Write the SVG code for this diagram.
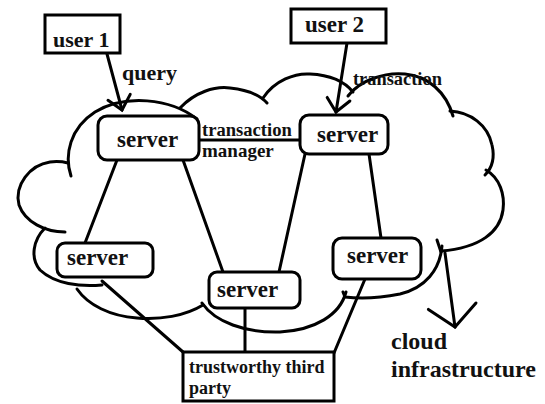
<svg xmlns="http://www.w3.org/2000/svg" width="545" height="404" viewBox="0 0 545 404">
<defs>
<style>
.ln{fill:none;stroke:#000;stroke-width:3;stroke-linecap:round;stroke-linejoin:round}
.bx{fill:#fff;stroke:#000;stroke-width:3}
.t{font-family:"Liberation Serif","Times New Roman",serif;font-weight:bold;fill:#111}
</style>
<marker id="vs" markerUnits="userSpaceOnUse" markerWidth="40" markerHeight="40" viewBox="-30 -20 40 40" refX="0" refY="0" orient="auto">
<path d="M-13,-12 L0,0 L-13,11" fill="none" stroke="#000" stroke-width="3" stroke-linecap="round"/>
</marker>
<marker id="vl" markerUnits="userSpaceOnUse" markerWidth="60" markerHeight="60" viewBox="-30 -30 60 60" refX="0" refY="0" orient="auto">
<path d="M-21,-24 L0,0 L-21,24" fill="none" stroke="#000" stroke-width="3" stroke-linecap="round"/>
</marker>
</defs>
<rect width="545" height="404" fill="#fff"/>
<g id="cloud" class="ln">
<path d="M71,176 C64,155 70,128 95,112 C125,94 170,98 197,119"/>
<path d="M180,108 C195,92 215,86 230,88 C248,90 260,95 267,103"/>
<path d="M263,98 C275,80 295,73 310,74 C330,75 345,82 353,92"/>
<path d="M348,96 C360,80 385,72 405,74 C428,76 446,92 453,116"/>
<path d="M450,111 C470,112 488,125 492,145 C495,158 492,168 485,175"/>
<path d="M486,170 C500,178 505,195 503,210 C500,232 480,248 441,251"/>
<path d="M437,240 L441,252"/>
<path d="M442,246 C440,270 425,288 400,294 C380,298 360,299 345,297 L343,292"/>
<path d="M346,292 C340,315 315,330 280,332 C245,333 215,322 202,303"/>
<path d="M203,305 C185,316 160,320 137,318 C110,316 88,305 77,289"/>
<path d="M102,285 C80,287 55,284 40,270 C30,258 33,240 45,228"/>
<path d="M65,232 C45,232 25,222 19,205 C14,185 30,165 50,162 C58,161 64,162 68,163"/>
</g>
<g id="connectors" class="ln">
<path d="M107,54 L122,110" marker-end="url(#vs)"/>
<path d="M347,43 L336,112" marker-end="url(#vs)"/>
<path d="M445,253 L455,327" marker-end="url(#vl)"/>
<path d="M199,140 L300,140"/>
<path d="M117,160 L85,243"/>
<path d="M183,160 L223,272"/>
<path d="M305,154 L279,272"/>
<path d="M369,154 L381,238"/>
<path d="M102,281 L183,352"/>
<path d="M245,308 L245,352"/>
<path d="M365,279 L334,353"/>
</g>
<g id="user1"><rect class="bx" x="45" y="15" width="75" height="38"/><text class="t" x="53" y="47" font-size="22">user 1</text></g>
<g id="user2"><rect class="bx" x="291" y="9" width="95" height="34"/><text class="t" x="305" y="32" font-size="23">user 2</text></g>
<g id="server1"><rect class="bx" x="98" y="116" width="101" height="44" rx="9"/><text class="t" x="117" y="147" font-size="23">server</text></g>
<g id="server2"><rect class="bx" x="300" y="115" width="88" height="39" rx="9"/><text class="t" x="317" y="142" font-size="23">server</text></g>
<g id="server3"><rect class="bx" x="57" y="243" width="96" height="34" rx="8"/><text class="t" x="67" y="265" font-size="23">server</text></g>
<g id="server4"><rect class="bx" x="209" y="272" width="91" height="36" rx="8"/><text class="t" x="217" y="297" font-size="23">server</text></g>
<g id="server5"><rect class="bx" x="333" y="238" width="88" height="41" rx="9"/><text class="t" x="347" y="263" font-size="23">server</text></g>
<g id="ttp"><rect class="bx" x="183" y="352" width="151" height="49"/><text class="t" x="189" y="373" font-size="18">trustworthy third</text><text class="t" x="189" y="394" font-size="18">party</text></g>
<g id="labels">
<text class="t" x="122" y="80" font-size="22">query</text>
<text class="t" x="202" y="136" font-size="18.6">transaction</text>
<text class="t" x="202" y="157" font-size="19">manager</text>
<text class="t" x="353" y="85" font-size="18.4">transaction</text>
<text class="t" x="391" y="349" font-size="24">cloud</text>
<text class="t" x="391" y="377" font-size="24">infrastructure</text>
</g>
</svg>
